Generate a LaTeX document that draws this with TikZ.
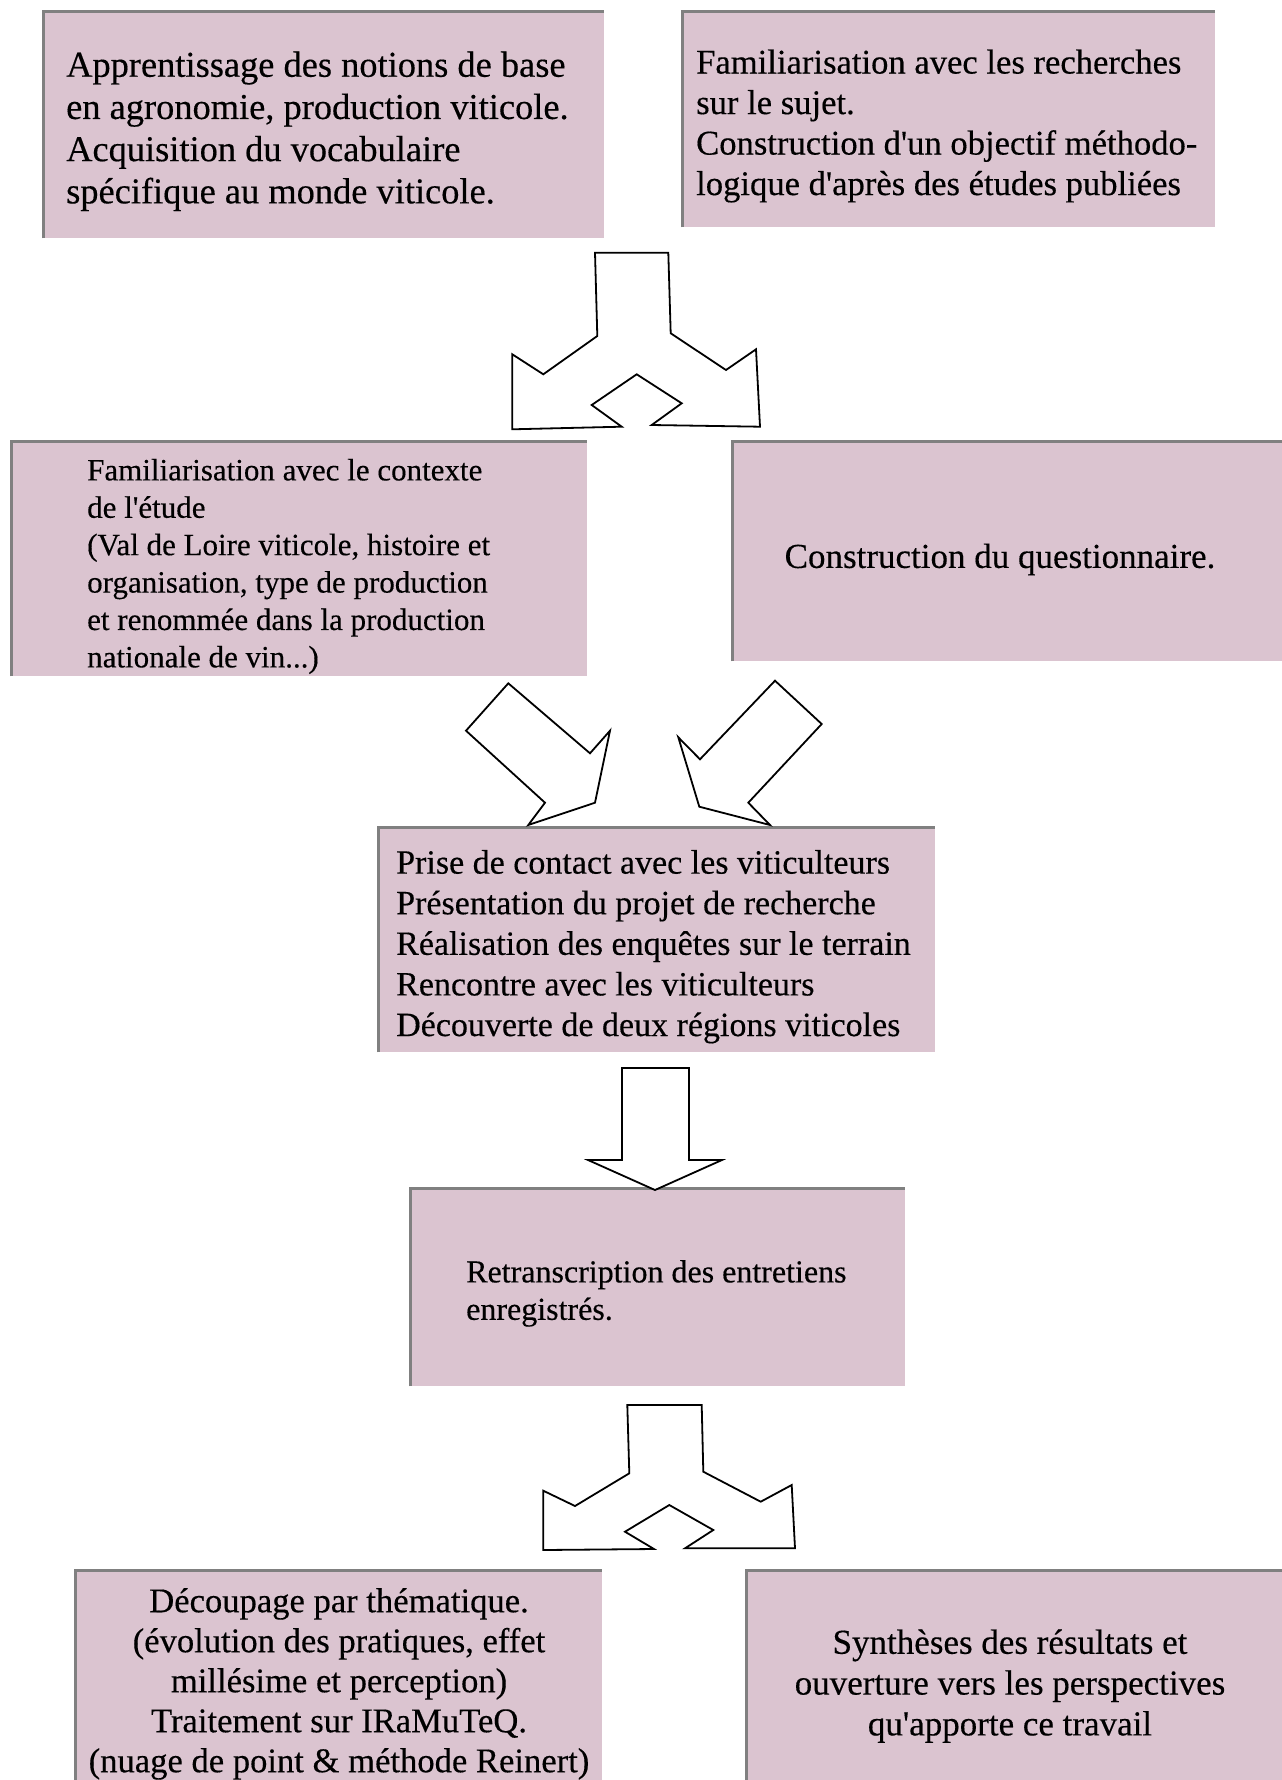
\documentclass[tikz,border=0pt]{standalone}
\usepackage{fontspec}
\setmainfont{Liberation Serif}[FakeBold=0.35]
\definecolor{boxfill}{RGB}{219,196,208}
\definecolor{boxline}{RGB}{128,128,128}
\newcommand{\aq}{\textquotesingle}
\begin{document}
\begin{tikzpicture}[x=1pt,y=-1pt,
  boxbg/.style={fill=boxfill, draw=none, inner sep=0pt, anchor=north west},
  boxedge/.style={draw=boxline, line width=3pt},
  blockarrow/.style={draw=black, fill=white, line width=1.8pt, line join=miter},
  txt/.style={anchor=north west, inner sep=0pt, align=left, text=black},
  ctxt/.style={anchor=north, inner sep=0pt, align=center, text=black}]
\useasboundingbox (0,0) rectangle (1282,1780);

% ---- boxes ----
\node[boxbg, minimum width=561pt, minimum height=227pt] (b1) at (43,11) {};
\node[boxbg, minimum width=533pt, minimum height=216pt] (b2) at (682,11) {};
\node[boxbg, minimum width=576pt, minimum height=235pt] (b3) at (11,441) {};
\node[boxbg, minimum width=552pt, minimum height=220pt] (b4) at (732,441) {};
\node[boxbg, minimum width=557pt, minimum height=225pt] (b5) at (378,827) {};
\node[boxbg, minimum width=495pt, minimum height=198pt] (b6) at (410,1188) {};
\node[boxbg, minimum width=527pt, minimum height=212pt] (b7) at (75,1570) {};
\node[boxbg, minimum width=538pt, minimum height=212pt] (b8) at (746,1570) {};
\foreach \b in {b1,b2,b3,b4,b5,b6,b7,b8}
  \draw[boxedge] (\b.south west) -- (\b.north west) -- (\b.north east);

% ---- texts ----
\node[txt, font=\fontsize{36.4}{42.2}\selectfont] (t1) at (66,47)
  {\strut Apprentissage des notions de base\\en agronomie, production viticole.\\Acquisition du vocabulaire\\spécifique au monde viticole.};
\node[txt, font=\fontsize{34.6}{40.5}\selectfont] (t2) at (696,45)
  {\strut Familiarisation avec les recherches\\sur le sujet.\\Construction d\aq un objectif méthodo-\\logique d\aq après des études publiées};
\node[txt, font=\fontsize{31}{37.4}\selectfont] (t3) at (87,454)
  {\strut Familiarisation avec le contexte\\de l\aq étude\\(Val de Loire viticole, histoire et\\organisation, type de production\\et renommée dans la production\\nationale de vin...)};
\node[ctxt, font=\fontsize{35}{41}\selectfont] (t4) at (1000,539)
  {\strut Construction du questionnaire.};
\node[txt, font=\fontsize{34}{40.6}\selectfont] (t5) at (396,845)
  {\strut Prise de contact avec les viticulteurs\\Présentation du projet de recherche\\Réalisation des enquêtes sur le terrain\\Rencontre avec les viticulteurs\\Découverte de deux régions viticoles};
\node[txt, font=\fontsize{32}{37.4}\selectfont] (t6) at (466,1256)
  {\strut Retranscription des entretiens\\enregistrés.};
\node[ctxt, font=\fontsize{34.6}{40}\selectfont] (t7) at (339,1584)
  {\strut Découpage par thématique.\\(évolution des pratiques, effet\\millésime et perception)\\Traitement sur IRaMuTeQ.\\(nuage de point \& méthode Reinert)};
\node[ctxt, font=\fontsize{35}{40.8}\selectfont] (t8) at (1010,1625)
  {\strut Synthèses des résultats et\\ouverture vers les perspectives\\qu\aq apporte ce travail};

% ---- block arrows ----
% three-way arrow between first and second row
\draw[blockarrow] (595,252.7) -- (668.3,252.7) -- (670.7,333.3) -- (726,370) -- (756,349.3)
  -- (760,426.7) -- (651.7,425) -- (681.7,403.3) -- (636.7,374.3) -- (591.7,405)
  -- (621.7,426.7) -- (512.3,429.3) -- (512.3,354.3) -- (543.3,374.3) -- (597.3,336) -- cycle;
% two diagonal arrows
\draw[blockarrow] (508.3,683.3) -- (590,753.3) -- (610,730.7) -- (595,802.7)
  -- (528.3,825) -- (545,802.7) -- (466,730.7) -- cycle;
\draw[blockarrow] (775,680.7) -- (821.7,724) -- (748.3,802.7) -- (770,825)
  -- (699.3,806.7) -- (678.3,737.3) -- (700,759.3) -- cycle;
% straight down arrow
\draw[blockarrow] (622,1068) -- (689,1068) -- (689,1160) -- (722,1160) -- (655,1190)
  -- (588,1160) -- (622,1160) -- cycle;
% three-way arrow before last row
\draw[blockarrow] (627.3,1405) -- (701.7,1405) -- (703.3,1471.7) -- (760.7,1501.7) -- (791.7,1485)
  -- (795,1548.3) -- (685,1548.3) -- (713.3,1530) -- (669.3,1505) -- (625,1531.7)
  -- (654,1549) -- (543.3,1550) -- (543.3,1490.7) -- (575,1506) -- (629.3,1473.3) -- cycle;
\end{tikzpicture}
\end{document}
